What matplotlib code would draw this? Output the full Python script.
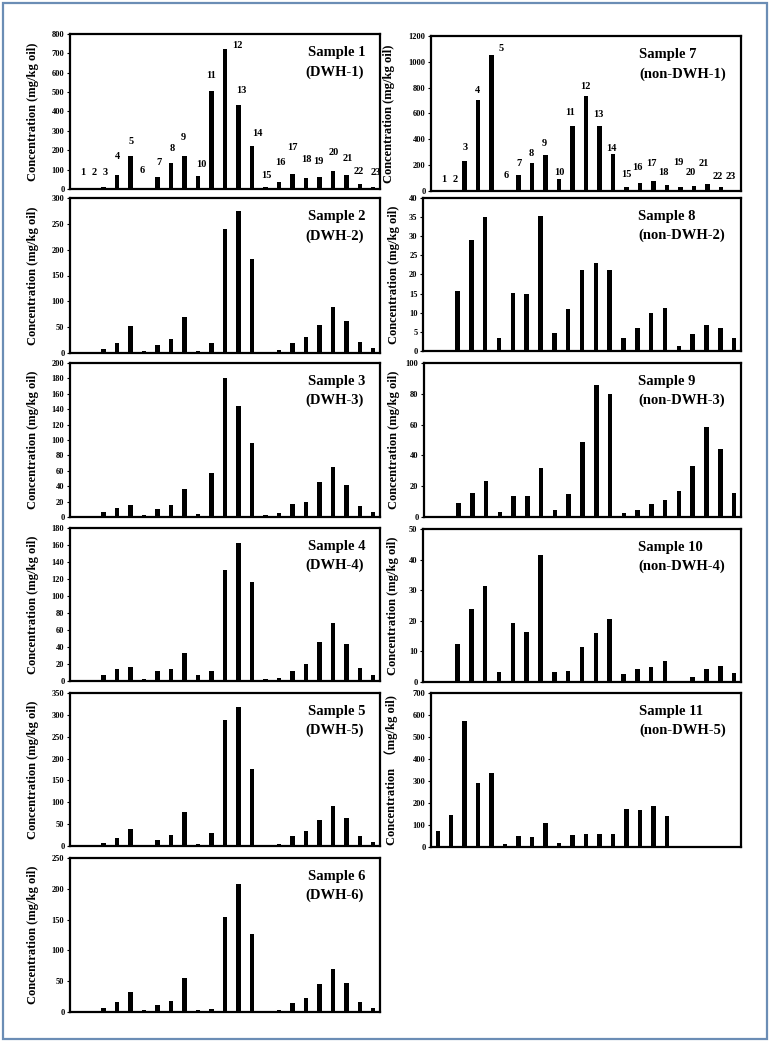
import matplotlib
matplotlib.use("Agg")
import matplotlib.pyplot as plt
from matplotlib.patches import Rectangle
import numpy as np

plt.rcParams['font.family'] = ['Liberation Serif', 'Noto Sans CJK SC', 'DejaVu Sans']
plt.rcParams['font.weight'] = 'bold'

peaks = list(range(1, 24))

s1 = [0, 0, 10, 70, 170, 0, 60, 133, 172, 65, 505, 725, 433, 220, 8, 35, 75, 57, 62, 93, 73, 28, 10]
s2 = [0, 0, 7, 19, 52, 3, 16, 27, 70, 3, 20, 240, 275, 181, 0, 5, 20, 31, 55, 89, 62, 22, 9]
s3 = [0, 0, 6, 12, 15, 3, 10, 15, 37, 4, 57, 180, 144, 96, 2.5, 5, 17, 20, 46, 65, 41, 14, 6]
s4 = [0, 0, 7, 14, 17, 2, 12, 14.5, 33.5, 6.6, 12, 131, 162, 116, 2, 3, 12, 20, 46, 68, 44, 15, 7]
s5 = [0, 0, 7, 19, 40, 0, 14, 26, 77, 4, 29, 289, 317, 176, 0, 4, 23, 35, 59, 92, 64, 23, 9]
s6 = [0, 0, 7, 16, 33, 2.5, 12, 18, 56, 2.5, 5, 155, 208, 126, 2, 3, 15, 23, 45, 69, 47, 17, 7]
s7 = [0, 0, 233, 703, 1055, 0, 125, 215, 278, 90, 505, 737, 502, 285, 30, 62, 75, 48, 32, 42, 52, 32, 8]
s8 = [0, 0, 15.8, 29.1, 35.0, 3.5, 15.2, 14.8, 35.2, 4.7, 10.9, 21.1, 23.1, 21.3, 3.4, 6.0, 9.9, 11.3, 1.4, 4.4, 6.7, 5.9, 3.3]
s9 = [0, 0, 9.3, 15.8, 23.4, 3.0, 13.9, 13.4, 32, 4.3, 14.9, 48.7, 85.7, 79.9, 2.4, 4.3, 8.7, 11, 17.1, 33.3, 58.2, 44.4, 15.6]
s10 = [0, 0, 12.3, 23.9, 31.4, 3.2, 19.2, 16.3, 41.6, 3.4, 3.6, 11.3, 16.1, 20.7, 2.7, 4.1, 5.0, 6.8, 0, 1.6, 4.1, 5.3, 2.9]
s11 = [73, 145, 575, 289, 335, 14, 50, 46, 111, 20, 56, 61, 59, 61, 173, 169, 187, 142, 0, 0, 4, 4, 0]

titles = ["Sample 1", "Sample 2", "Sample 3", "Sample 4", "Sample 5", "Sample 6",
          "Sample 7", "Sample 8", "Sample 9", "Sample 10", "Sample 11"]
subtitles = ["(DWH-1)", "(DWH-2)", "(DWH-3)", "(DWH-4)", "(DWH-5)", "(DWH-6)",
             "(non-DWH-1)", "(non-DWH-2)", "(non-DWH-3)", "(non-DWH-4)", "(non-DWH-5)"]
series = [s1, s2, s3, s4, s5, s6, s7, s8, s9, s10, s11]
ymax = [800, 300, 200, 180, 350, 250, 1200, 40, 100, 50, 700]
ystep = [100, 50, 20, 20, 50, 50, 200, 5, 20, 10, 100]

# peak-number label placement for the two annotated panels (data units / pixel offsets)
lab1_y = [86, 86, 86, 166, 245, 95, 138, 211, 264, 128, 587, 743, 506, 285, 69, 135, 212, 152, 143, 187, 155, 90, 86]
lab1_dx = [6, 4, 1, 0, 0, -2, 1, 1, -1, 3, 0, 12, 2.5, 5, 0.5, 1, 0.5, 1, -0.5, 1, 1.5, -1, 2]
lab7_y = [88, 88, 334, 776, 1101, 122, 212, 290, 367, 145, 610, 812, 590, 328, 129, 181, 212, 145, 217, 140, 212, 116, 116]
lab7_dx = [6, 4, 0, -1, 9.5, 1, 0, -1, -1.5, 0, -2.5, -1, -1.5, -2, 0, -3, -2, -3, -2, -3.5, -3, -3.5, -4]

W, H = 770, 1041
fig = plt.figure(figsize=(W / 100, H / 100), dpi=100)

# axes boxes in pixels: left, top, width, bottom
boxes = [
    (70, 34, 310, 189), (70, 198, 310, 353), (70, 363, 310, 517),
    (70, 528, 310, 681), (70, 693, 310, 846), (70, 858, 310, 1012),
    (431, 36, 310, 191), (423, 198, 318, 351), (424, 363, 317, 517),
    (423, 529, 318, 682), (431, 693, 310, 847),
]
label_x = [-0.10] * 6 + [-0.116, -0.072, -0.075, -0.075, -0.106]
title_x = [0.768] * 6 + [0.672, 0.676, 0.676, 0.676, 0.672]

for i in range(11):
    l, t, w, b = boxes[i]
    ax = fig.add_axes([l / W, 1 - b / H, w / W, (b - t) / H])
    ax.bar(peaks, series[i], width=0.33, color='black')
    ax.set_xlim(0.5, 23.5)
    ax.set_ylim(0, ymax[i])
    ax.set_yticks(np.arange(0, ymax[i] + ystep[i] / 2, ystep[i]))
    ax.set_xticks([])
    for sp in ax.spines.values():
        sp.set_linewidth(1.6)
        sp.set_color('black')
    ax.tick_params(axis='y', labelsize=6, length=2, width=0.8, pad=2)
    for lab in ax.get_yticklabels():
        lab.set_fontweight('bold')
    ylabel = "Concentration  （mg/kg oil)" if i == 10 else "Concentration (mg/kg oil)"
    ax.set_ylabel(ylabel, fontsize=9, fontweight='bold')
    ax.yaxis.set_label_coords(label_x[i], 0.5)
    ax.text(title_x[i], 0.88, titles[i], transform=ax.transAxes, fontsize=10.5,
            fontweight='bold', ha='left', va='center')
    ax.text(title_x[i] - 0.01 if i < 6 else title_x[i], 0.755, subtitles[i], transform=ax.transAxes,
            fontsize=10.5, fontweight='bold', ha='left', va='center')
    if i == 0 or i == 6:
        ly = lab1_y if i == 0 else lab7_y
        ldx = lab1_dx if i == 0 else lab7_dx
        px_per = w / 23.0
        for k, p in enumerate(peaks):
            ax.text(p + ldx[k] / px_per, ly[k], str(p), fontsize=7.5, fontweight='bold',
                    ha='center', va='center')

fig.add_artist(Rectangle((3 / W, 2 / H), 764 / W, 1036 / H, transform=fig.transFigure,
                         fill=False, edgecolor='#6B8DB5', linewidth=1.6))

fig.savefig("out.png", dpi=100)
